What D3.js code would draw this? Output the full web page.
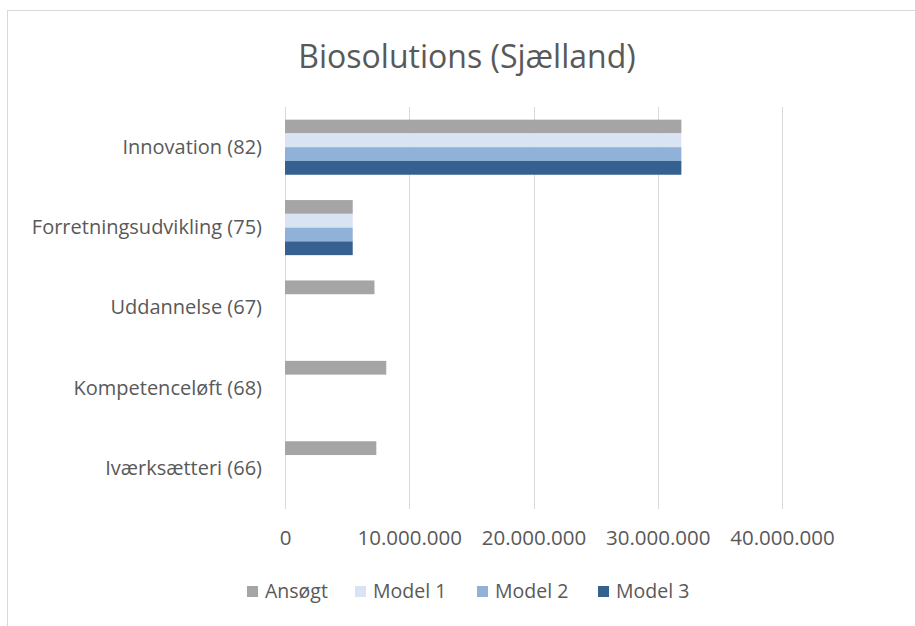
<!DOCTYPE html>
<html>
<head>
<meta charset="utf-8">
<script src="https://cdn.jsdelivr.net/npm/d3@7"></script>
<style>
  body { margin: 0; background: #fff; }
  text { font-family: "Open Sans", sans-serif; fill: #595959; }
</style>
</head>
<body>
<div class="chart"></div>
<script>
// data
const categories = ['Innovation (82)', 'Forretningsudvikling (75)', 'Uddannelse (67)', 'Kompetenceløft (68)', 'Iværksætteri (66)'];
const seriesNames = ['Ansøgt', 'Model 1', 'Model 2', 'Model 3'];
const ansoegt = [31900000, 5450000, 7200000, 8150000, 7350000];
const model1 = [31900000, 5450000, 0, 0, 0];
const model2 = [31900000, 5450000, 0, 0, 0];
const model3 = [31900000, 5450000, 0, 0, 0];
const xTicks = [0, 10000000, 20000000, 30000000, 40000000];
const colors = ['#a5a5a5', '#dae3f3', '#91b2d8', '#35608f'];

const W = 915, H = 626;
const margin = {top: 107, right: 133, bottom: 117, left: 285};
const width = W - margin.left - margin.right;
const height = H - margin.top - margin.bottom;

const allSeries = [ansoegt, model1, model2, model3];

const svg = d3.select('.chart').append('svg')
    .attr('width', W)
    .attr('height', H);

// chart frame
svg.append('rect')
    .attr('x', 7.5).attr('y', 10.5)
    .attr('width', W).attr('height', H)
    .attr('fill', 'none')
    .attr('stroke', '#d9d9d9');

svg.append('text')
    .attr('x', 467).attr('y', 68)
    .attr('text-anchor', 'middle')
    .style('font-size', '32px')
    .text('Biosolutions (Sjælland)');

const g = svg.append('g')
    .attr('transform', 'translate(' + margin.left + ',' + margin.top + ')');

const x = d3.scaleLinear()
    .domain([0, 40000000])
    .range([0, width]);

const y = d3.scaleBand()
    .domain(categories)
    .range([0, height])
    .paddingInner(0.315)
    .paddingOuter(0.1575);

const ySub = d3.scaleBand()
    .domain(seriesNames)
    .range([0, y.bandwidth()]);

// gridlines
g.append('g')
    .selectAll('line')
    .data(xTicks)
    .join('line')
    .attr('x1', d => Math.round(x(d)) + 0.5)
    .attr('x2', d => Math.round(x(d)) + 0.5)
    .attr('y1', 0)
    .attr('y2', height)
    .attr('stroke', '#d9d9d9');

// bars
const fmt = d3.formatLocale({decimal: ',', thousands: '.', grouping: [3], currency: ['', '']}).format(',');

const rows = categories.map((c, i) => seriesNames.map((s, j) => ({cat: c, series: s, value: allSeries[j][i], color: colors[j]})));

g.append('g')
    .selectAll('g')
    .data(rows)
    .join('g')
    .attr('transform', d => 'translate(0,' + y(d[0].cat) + ')')
    .selectAll('rect')
    .data(d => d.filter(v => v.value > 0))
    .join('rect')
    .attr('x', x(0))
    .attr('y', d => ySub(d.series))
    .attr('width', d => x(d.value) - x(0))
    .attr('height', ySub.bandwidth())
    .attr('fill', d => d.color);

// x axis labels
const xAxis = d3.axisBottom(x)
    .tickValues(xTicks)
    .tickFormat(fmt)
    .tickSize(0)
    .tickPadding(21);

g.append('g')
    .attr('transform', 'translate(0,' + height + ')')
    .call(xAxis)
    .call(a => a.select('.domain').remove())
    .selectAll('text')
    .style('font-size', '20.5px')
    .style('font-family', '"Open Sans", sans-serif')
    .attr('fill', '#595959');

// y axis labels
const yAxis = d3.axisLeft(y)
    .tickSize(0)
    .tickPadding(23);

g.append('g')
    .call(yAxis)
    .call(a => a.select('.domain').remove())
    .selectAll('text')
    .style('font-size', '20px')
    .style('font-family', '"Open Sans", sans-serif')
    .attr('fill', '#595959');

// legend
const legendX = [247, 355, 477, 598];
const legend = svg.append('g')
    .selectAll('g')
    .data(seriesNames)
    .join('g')
    .attr('transform', (d, i) => 'translate(' + legendX[i] + ',586)');

legend.append('rect')
    .attr('width', 11)
    .attr('height', 11)
    .attr('fill', (d, i) => colors[i]);

legend.append('text')
    .attr('x', 18)
    .attr('y', 12)
    .style('font-size', '19.5px')
    .text(d => d);
</script>
</body>
</html>
